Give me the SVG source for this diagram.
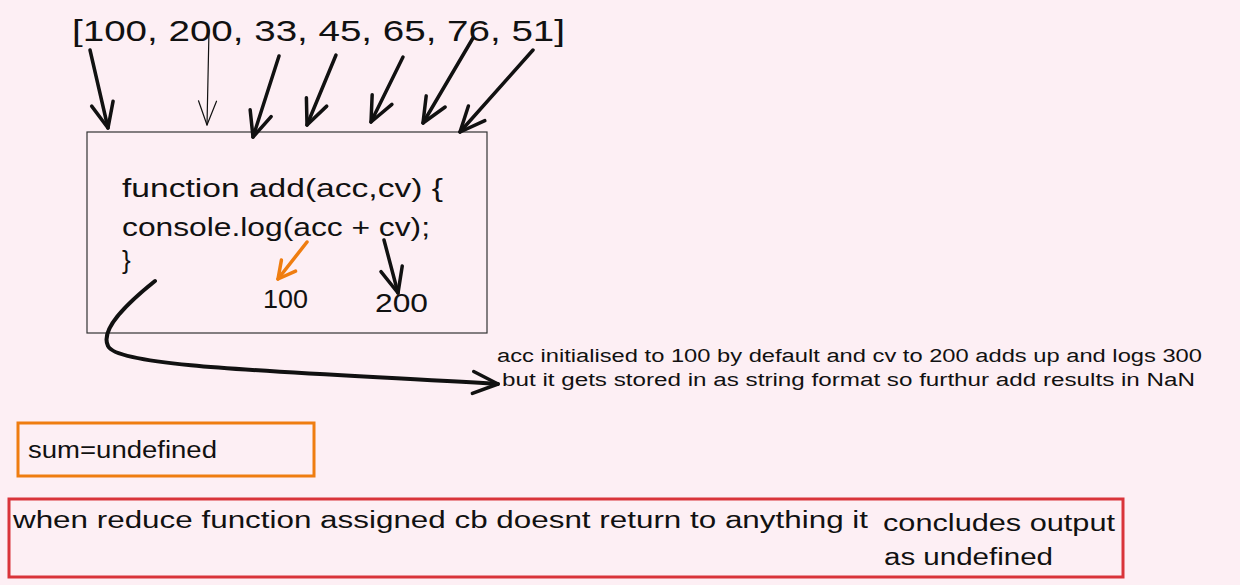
<svg xmlns="http://www.w3.org/2000/svg" width="1240" height="585" viewBox="0 0 1240 585">
<style>
  text { font-family: "Liberation Sans", Arial, sans-serif; fill: #111111; }
  .conn { fill: none; stroke: #111111; stroke-linecap: round; stroke-linejoin: round; }
  .thick { stroke-width: 3.5; }
  .thin { stroke-width: 1.2; }
  .head { fill: none; stroke-linecap: round; stroke-linejoin: round; }
</style>
<defs>
  <marker id="ah" markerUnits="userSpaceOnUse" markerWidth="34" markerHeight="30" viewBox="0 0 34 30" refX="28" refY="15" orient="auto">
    <path class="head" d="M3,4 L28,15 L3,26" stroke="#111111" stroke-width="3.5"/>
  </marker>
  <marker id="ahThin" markerUnits="userSpaceOnUse" markerWidth="34" markerHeight="30" viewBox="0 0 34 30" refX="28" refY="15" orient="auto">
    <path class="head" d="M4,6 L28,15 L4,24" stroke="#111111" stroke-width="1.2"/>
  </marker>
  <marker id="ahOrange" markerUnits="userSpaceOnUse" markerWidth="30" markerHeight="30" viewBox="0 0 30 30" refX="22" refY="15" orient="auto">
    <path class="head" d="M5,6 L22,15 L5,24" stroke="#ef7d10" stroke-width="3.5"/>
  </marker>
</defs>
<rect width="1240" height="585" fill="#fdeff4"/>

<g id="array-label">
  <text x="72" y="41" font-size="30" textLength="493" lengthAdjust="spacingAndGlyphs">[100, 200, 33, 45, 65, 76, 51]</text>
</g>

<g id="function-box">
  <rect x="87" y="132" width="400" height="201" fill="none" stroke="#333333" stroke-width="1.2"/>
  <text x="122" y="197" font-size="26" textLength="321" lengthAdjust="spacingAndGlyphs">function add(acc,cv) {</text>
  <text x="122" y="236" font-size="26" textLength="308" lengthAdjust="spacingAndGlyphs">console.log(acc + cv);</text>
  <text x="122" y="269" font-size="26">}</text>
</g>

<g id="acc-value">
  <text x="263" y="308" font-size="25" textLength="45" lengthAdjust="spacingAndGlyphs">100</text>
</g>

<g id="cv-value">
  <text x="375" y="312" font-size="25" textLength="53" lengthAdjust="spacingAndGlyphs">200</text>
</g>

<g id="note">
  <text x="497" y="362" font-size="18" textLength="705" lengthAdjust="spacingAndGlyphs">acc initialised to 100 by default and cv to 200 adds up and logs 300</text>
  <text x="502" y="386" font-size="18" textLength="693" lengthAdjust="spacingAndGlyphs">but it gets stored in as string format so furthur add results in NaN</text>
</g>

<g id="sum-box">
  <rect x="18" y="423" width="296" height="53" fill="none" stroke="#ef7d10" stroke-width="3"/>
  <text x="28" y="458" font-size="23" textLength="189" lengthAdjust="spacingAndGlyphs">sum=undefined</text>
</g>

<g id="conclusion-box">
  <rect x="9" y="499" width="1114" height="78" fill="none" stroke="#d9343a" stroke-width="3"/>
  <text x="13" y="528" font-size="23" textLength="855" lengthAdjust="spacingAndGlyphs">when reduce function assigned cb doesnt return to anything it</text>
  <text x="883" y="531" font-size="23" textLength="232" lengthAdjust="spacingAndGlyphs">concludes output</text>
  <text x="884" y="565" font-size="23" textLength="169" lengthAdjust="spacingAndGlyphs">as undefined</text>
</g>

<g id="connectors">
  <path class="conn thick" d="M90,50 L108,128" marker-end="url(#ah)"/>
  <path class="conn thin" d="M209,30 L207,125" marker-end="url(#ahThin)"/>
  <path class="conn thick" d="M279,56 L253,137" marker-end="url(#ah)"/>
  <path class="conn thick" d="M336,55 L307,125" marker-end="url(#ah)"/>
  <path class="conn thick" d="M403,57 L371,122" marker-end="url(#ah)"/>
  <path class="conn thick" d="M473,38 L423,123" marker-end="url(#ah)"/>
  <path class="conn thick" d="M533,50 L460,132" marker-end="url(#ah)"/>
  <path class="conn" d="M307,242 L278,279" marker-end="url(#ahOrange)" style="stroke:#ef7d10;stroke-width:3.5"/>
  <path class="conn thick" d="M384,240 L398,293" marker-end="url(#ah)"/>
  <path class="conn" stroke-width="4" d="M155,281 C125,305 100,330 108,346 C118,368 300,372 498,384" marker-end="url(#ah)"/>
</g>
</svg>
